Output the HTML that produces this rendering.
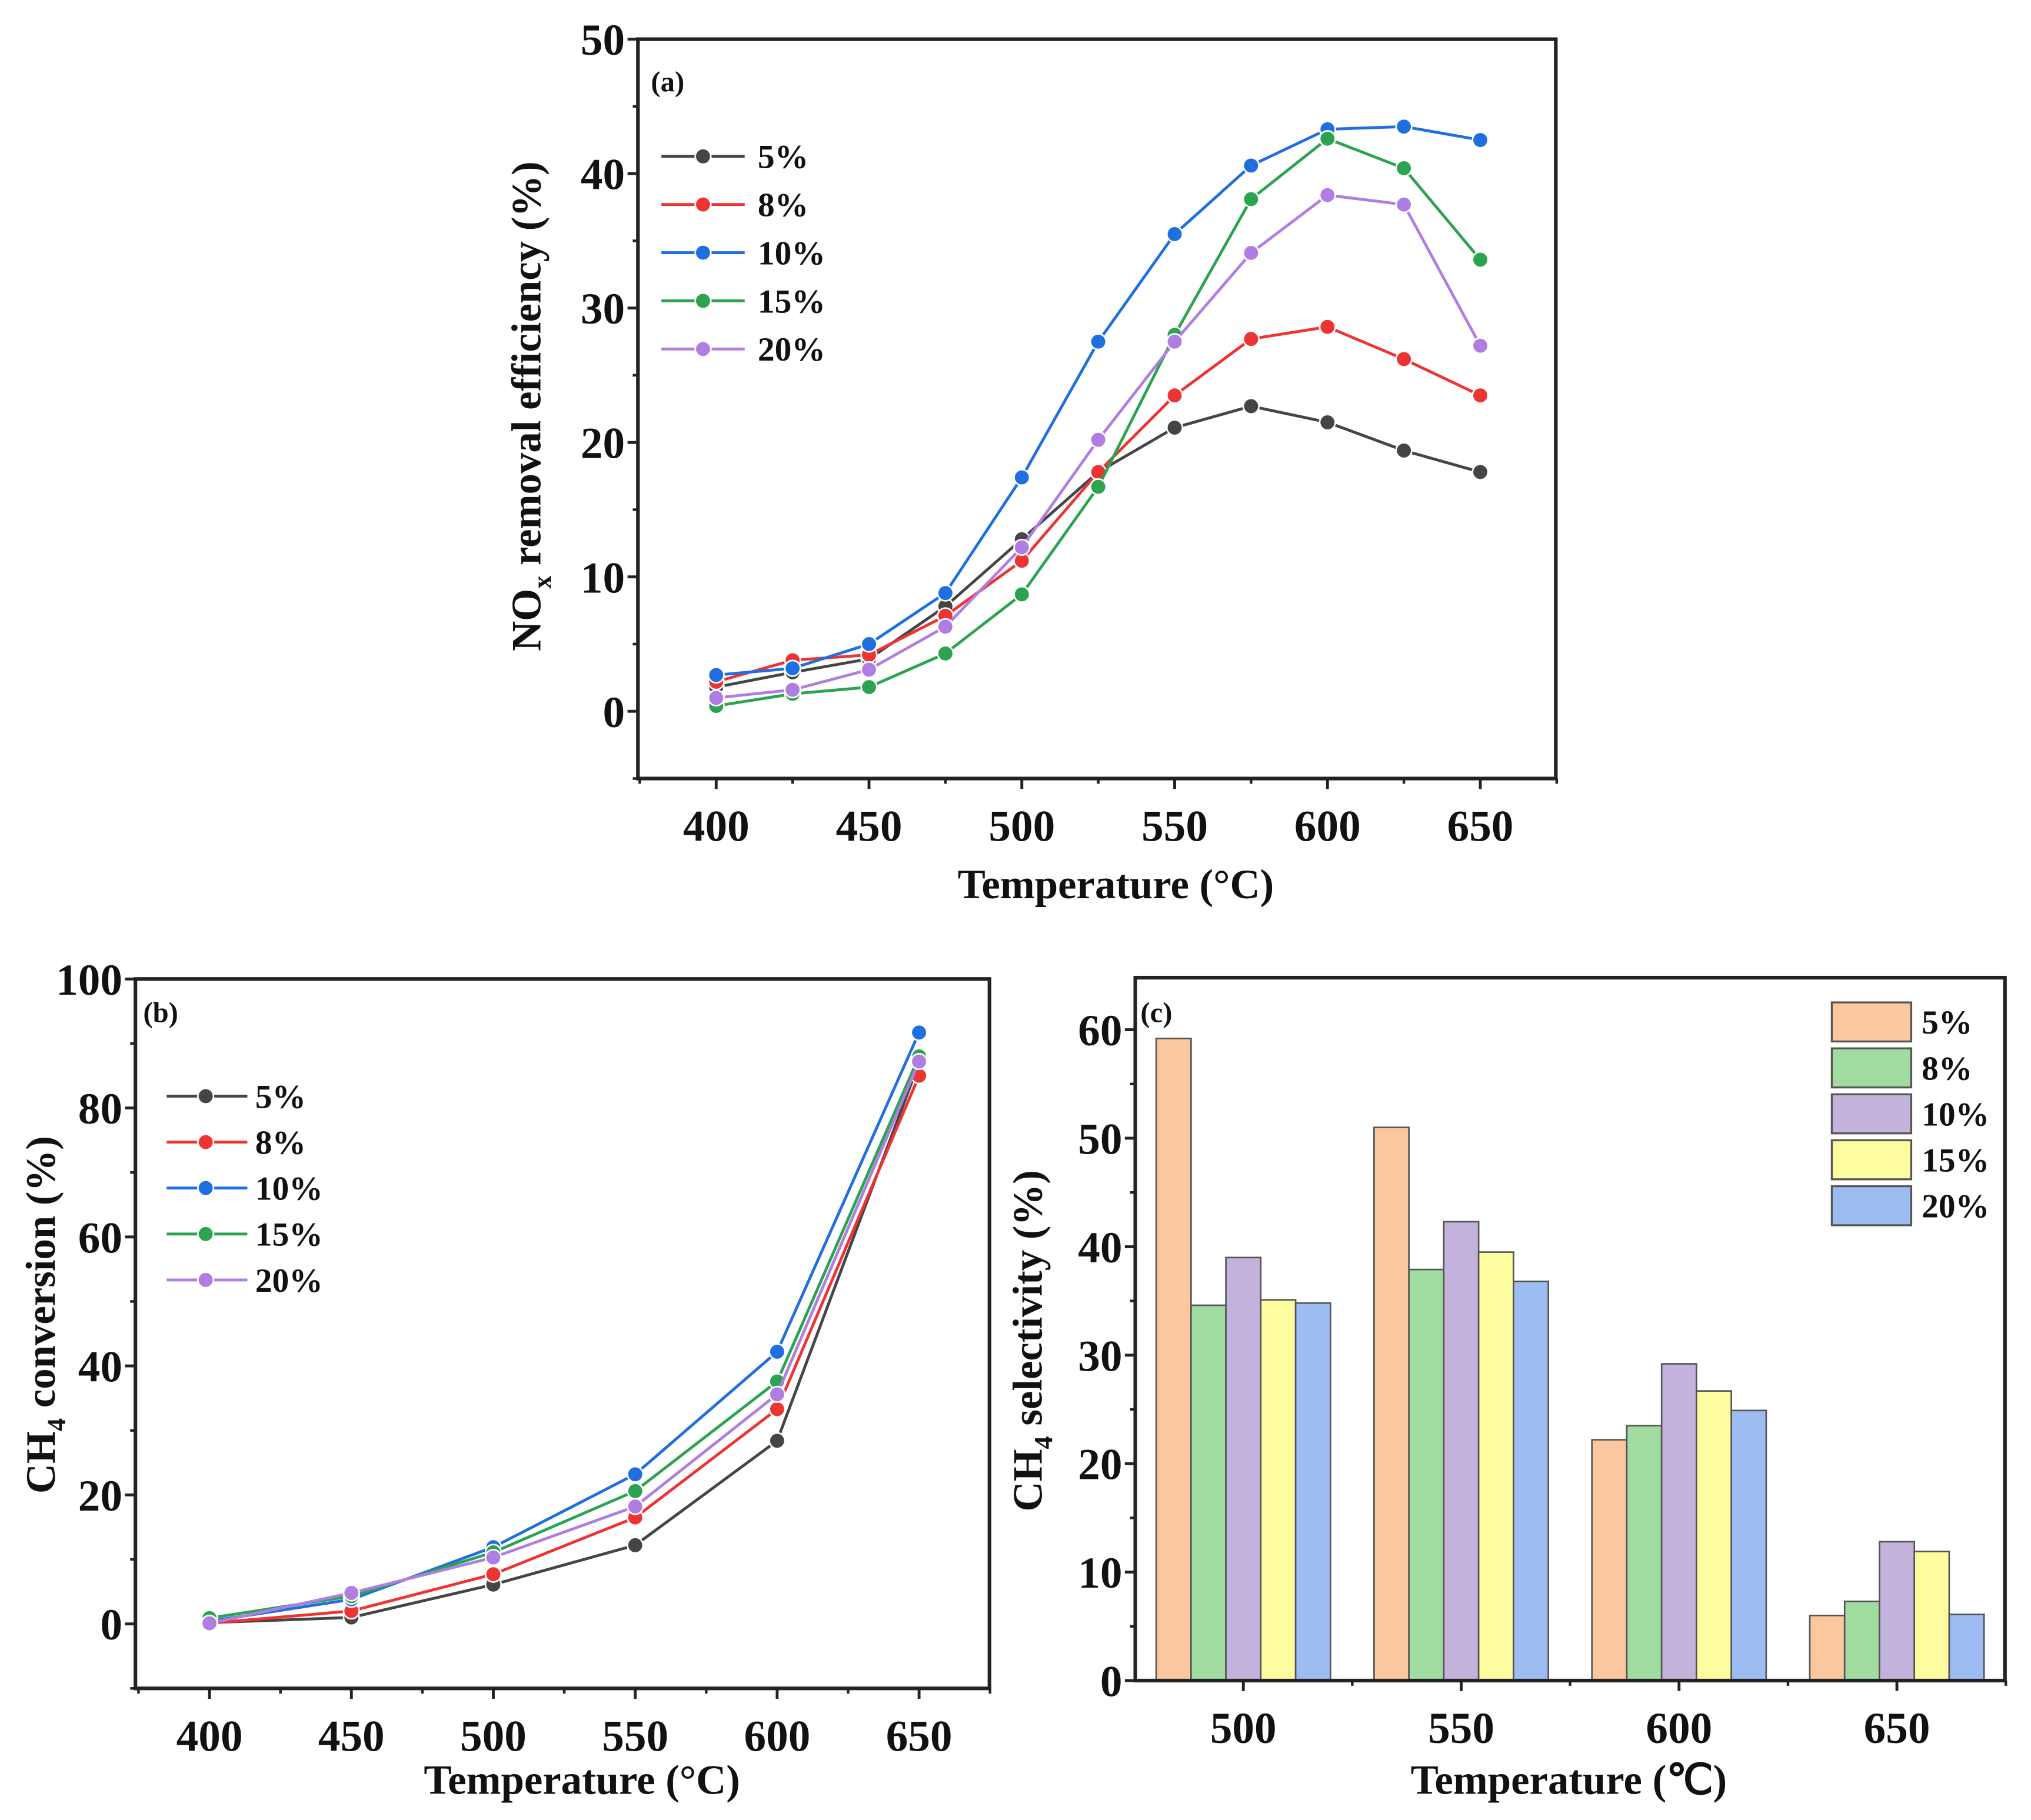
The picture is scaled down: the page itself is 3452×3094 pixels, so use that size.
<!DOCTYPE html>
<html><head><meta charset="utf-8">
<style>
html,body{margin:0;padding:0;background:#fff;}
svg{display:block;font-family:"Liberation Serif",serif;font-weight:bold;}
</style></head>
<body>
<svg id="fig" width="3452" height="3094" viewBox="0 0 1560 1398" xmlns="http://www.w3.org/2000/svg"></svg>
<script>
// ---------- data ----------
const seriesNames = ["5%","8%","10%","15%","20%"];
const lineColors = ["#454545","#ee3333","#1f6fe0","#2ba34f","#b07ee2"];
const barColors = ["#fbc79f","#a0dca0","#c3b3dc","#fdfda0","#9dbcf2"];

const tempsA = [400,425,450,475,500,525,550,575,600,625,650];
const noxA5  = [1.8,2.9,3.9,7.8,12.8,17.8,21.1,22.7,21.5,19.4,17.8];
const noxA8  = [2.2,3.8,4.2,7.1,11.2,17.8,23.5,27.7,28.6,26.2,23.5];
const noxA10 = [2.7,3.2,5.0,8.8,17.4,27.5,35.5,40.6,43.3,43.5,42.5];
const noxA15 = [0.4,1.3,1.8,4.3,8.7,16.7,28.0,38.1,42.6,40.4,33.6];
const noxA20 = [1.0,1.6,3.1,6.3,12.2,20.2,27.5,34.1,38.4,37.7,27.2];
const ticksAY = [0,10,20,30,40,50];
const ticksAX = [400,450,500,550,600,650];

const tempsB = [400,450,500,550,600,650];
const ch4B5  = [0.2,1.0,6.1,12.2,28.4,87.0];
const ch4B8  = [0.1,2.0,7.7,16.5,33.3,85.0];
const ch4B10 = [0.4,3.8,11.9,23.2,42.2,91.7];
const ch4B15 = [0.9,4.3,11.1,20.6,37.6,88.0];
const ch4B20 = [0.1,4.8,10.3,18.2,35.6,87.2];
const ticksBY = [0,20,40,60,80,100];
const ticksBX = [400,450,500,550,600,650];

const tempsC = [500,550,600,650];
const selC5  = [59.2,51.0,22.2,6.0];
const selC8  = [34.6,37.9,23.5,7.3];
const selC10 = [39.0,42.3,29.2,12.8];
const selC15 = [35.1,39.5,26.7,11.9];
const selC20 = [34.8,36.8,24.9,6.1];
const ticksCY = [0,10,20,30,40,50,60];

// ---------- helpers ----------
const NS="http://www.w3.org/2000/svg";
const svg=document.getElementById('fig');
function mk(tag,attrs,parent){const e=document.createElementNS(NS,tag);for(const k in attrs)e.setAttribute(k,attrs[k]);(parent||svg).appendChild(e);return e;}
function txt(s,x,y,size,parent,anchor){const t=mk('text',{x:x,y:y,'font-size':size,'text-anchor':anchor||'middle','fill':'#111'},parent);t.textContent=s;return t;}

function axes(g,box,xr,yr,xt,yt,xminor,yminor,sx,sy){
  const r=mk('rect',{x:box.l,y:box.t,width:box.r-box.l,height:box.b-box.t,fill:'none',stroke:'#222','stroke-width':2.8},g);
  
  for(const v of yminor){const y=sy(v);mk('line',{x1:box.l-4,x2:box.l,y1:y,y2:y,stroke:'#222','stroke-width':2},g);}
  for(const v of yt){const y=sy(v);mk('line',{x1:box.l-8,x2:box.l,y1:y,y2:y,stroke:'#222','stroke-width':2.2},g);
    const t=txt(String(v),box.l-10,y+12,34,g,'end');}
  for(const v of xminor){const x=sx(v);mk('line',{x1:x,x2:x,y1:box.b,y2:box.b+4,stroke:'#222','stroke-width':2},g);}
  for(const v of xt){const x=sx(v);mk('line',{x1:x,x2:x,y1:box.b,y2:box.b+8,stroke:'#222','stroke-width':2.2},g);
    const t=txt(String(v),x,box.b+48,34,g);}
}
function range(a,b,s){const o=[];for(let v=a;v<=b+1e-9;v+=s)o.push(v);return o;}

// ---------- chart (a) ----------
(function(){
  const g=mk('g',{});
  const box={l:490,r:1195,t:30,b:598};
  const xr=[374.4,674.7], yr=[-5,50];
  const sx=v=>box.l+(v-xr[0])/(xr[1]-xr[0])*(box.r-box.l);
  const sy=v=>box.b-(v-yr[0])/(yr[1]-yr[0])*(box.b-box.t);
  axes(g,box,xr,yr,ticksAX,ticksAY,range(375,675,25),range(-5,50,5),sx,sy);
  const all=[noxA5,noxA8,noxA10,noxA15,noxA20];
  all.forEach((d,i)=>{
    const p=mk('polyline',{points:d.map((v,j)=>sx(tempsA[j])+','+sy(v)).join(' '),fill:'none',stroke:lineColors[i],'stroke-width':2.2},g);
    
    d.forEach((v,j)=>{const c=mk('circle',{cx:sx(tempsA[j]),cy:sy(v),r:6,fill:lineColors[i],stroke:'#fff','stroke-width':1.2},g);
      });
  });
  const lab=txt('(a)',500,70,22,g,'start');
  seriesNames.forEach((n,i)=>{const y=120+i*37;
    const lg=mk('g',{},g);
    mk('line',{x1:508,x2:572,y1:y,y2:y,stroke:lineColors[i],'stroke-width':2.2},lg);
    mk('circle',{cx:540,cy:y,r:6,fill:lineColors[i],stroke:'#fff','stroke-width':1.2},lg);
    txt(n,582,y+9,26,lg,'start');});
  const yt=mk('text',{x:0,y:0,'font-size':32,'text-anchor':'middle',fill:'#111',transform:'translate(415,312) rotate(-90)'},g);
  
  yt.innerHTML='NO<tspan font-size="20" dy="8">x</tspan><tspan dy="-8"> removal efficiency (%)</tspan>';
  const xt=txt('Temperature (°C)',857,690,32,g);
})();

// ---------- chart (b) ----------
(function(){
  const g=mk('g',{});
  const box={l:104,r:760,t:752,b:1297};
  const xr=[373.9,674.8], yr=[-10,100];
  const sx=v=>box.l+(v-xr[0])/(xr[1]-xr[0])*(box.r-box.l);
  const sy=v=>box.b-(v-yr[0])/(yr[1]-yr[0])*(box.b-box.t);
  axes(g,box,xr,yr,ticksBX,ticksBY,range(375,675,25),range(-10,100,10),sx,sy);
  const all=[ch4B5,ch4B8,ch4B10,ch4B15,ch4B20];
  all.forEach((d,i)=>{
    const p=mk('polyline',{points:d.map((v,j)=>sx(tempsB[j])+','+sy(v)).join(' '),fill:'none',stroke:lineColors[i],'stroke-width':2.2},g);
    
    d.forEach((v,j)=>{const c=mk('circle',{cx:sx(tempsB[j]),cy:sy(v),r:6,fill:lineColors[i],stroke:'#fff','stroke-width':1.2},g);
      });
  });
  const lab=txt('(b)',110,785,22,g,'start');
  seriesNames.forEach((n,i)=>{const y=842+i*35.3;
    const lg=mk('g',{},g);
    mk('line',{x1:128,x2:190,y1:y,y2:y,stroke:lineColors[i],'stroke-width':2.2},lg);
    mk('circle',{cx:158,cy:y,r:6,fill:lineColors[i],stroke:'#fff','stroke-width':1.2},lg);
    txt(n,196,y+9,26,lg,'start');});
  const yt=mk('text',{x:0,y:0,'font-size':32,'text-anchor':'middle',fill:'#111',transform:'translate(42,1010) rotate(-90)'},g);
  
  yt.innerHTML='CH<tspan font-size="20" dy="8">4</tspan><tspan dy="-8"> conversion (%)</tspan>';
  const xt=txt('Temperature (°C)',447,1378,32,g);
})();

// ---------- chart (c) ----------
(function(){
  const g=mk('g',{});
  const box={l:872,r:1540,t:751,b:1291};
  const xr=[475.2,674.8], yr=[0,64.8];
  const sx=v=>box.l+(v-xr[0])/(xr[1]-xr[0])*(box.r-box.l);
  const sy=v=>box.b-(v-yr[0])/(yr[1]-yr[0])*(box.b-box.t);
  const all=[selC5,selC8,selC10,selC15,selC20];
  const bw=8;
  all.forEach((d,i)=>{
    d.forEach((v,j)=>{const x0=sx(tempsC[j]+(i-2.5)*bw), x1=sx(tempsC[j]+(i-1.5)*bw);
      const r=mk('rect',{x:x0,y:sy(v),width:x1-x0,height:sy(0)-sy(v),fill:barColors[i],stroke:'#555','stroke-width':1.2},g);
      });
  });
  axes(g,box,xr,yr,tempsC,ticksCY,range(525,675,50),range(0,60,5),sx,sy);
  const lab=txt('(c)',876,785,22,g,'start');
  seriesNames.forEach((n,i)=>{const y=770+i*35.3;
    const lg=mk('g',{},g);
    mk('rect',{x:1407,y:y,width:61,height:30,fill:barColors[i],stroke:'#555','stroke-width':1.5},lg);
    txt(n,1476,y+24,26,lg,'start');});
  const yt=mk('text',{x:0,y:0,'font-size':32,'text-anchor':'middle',fill:'#111',transform:'translate(800,1030) rotate(-90)'},g);
  
  yt.innerHTML='CH<tspan font-size="20" dy="8">4</tspan><tspan dy="-8"> selectivity (%)</tspan>';
  const xt=txt('Temperature (℃)',1205,1378,32,g);
})();
</script>
</body></html>
